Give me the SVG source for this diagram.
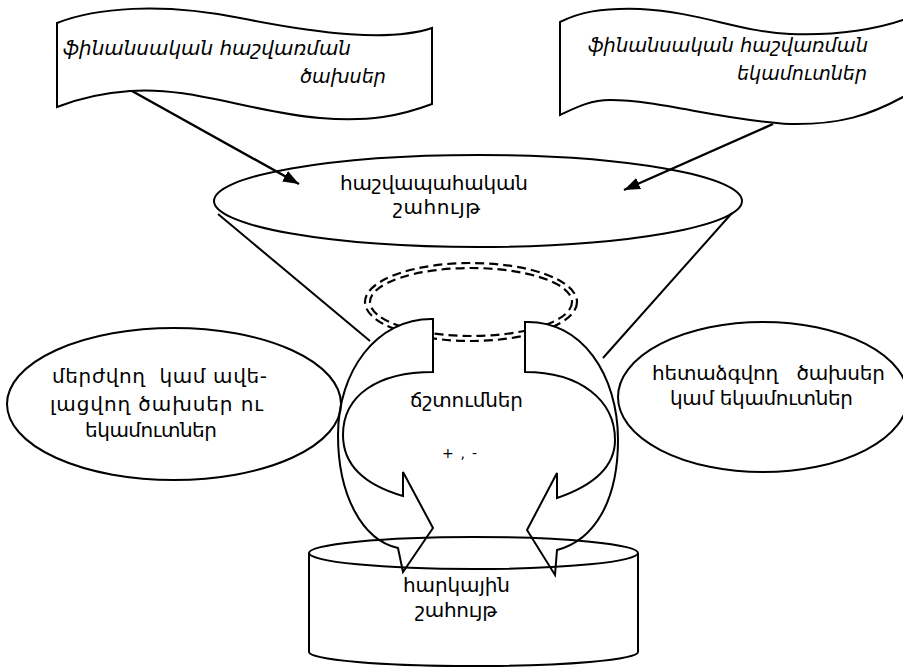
<svg xmlns="http://www.w3.org/2000/svg" width="903" height="667" viewBox="0 0 903 667">
<style>
.s{fill:none;stroke:#000;stroke-width:2}
.w{fill:#fff;stroke:#000;stroke-width:2;stroke-linejoin:miter}
.d{fill:none;stroke:#000;stroke-width:2.2;stroke-dasharray:9 5}
.t{font-family:"DejaVu Sans",sans-serif;font-size:20px;fill:#000;white-space:pre}
.i{font-style:italic}
</style>
<defs>
<marker id="ah" markerUnits="userSpaceOnUse" markerWidth="16" markerHeight="12" viewBox="0 0 16 12" refX="16" refY="6" orient="auto">
<path d="M0,0 L16,6 L0,12 z" fill="#000"/>
</marker>
</defs>
<rect width="903" height="667" fill="#fff"/>

<g id="doc-left">
<path class="s" d="M57,23 C95,8 160,2 240,18 S390,42 432,28 L432,104 C400,116 370,122 320,118 C250,112 190,86 130,91 C100,93 75,100 57,107 Z"/>
<text class="t i" x="63" y="55" textLength="288" lengthAdjust="spacingAndGlyphs">ֆինանսական հաշվառման</text>
<text class="t i" x="300" y="83" textLength="86" lengthAdjust="spacingAndGlyphs">ծախսեր</text>
</g>

<g id="doc-right">
<path class="s" d="M560,22 C580,12 600,8 640,9 C700,12 740,32 790,34 C840,36 880,28 903,20 L910,20 L910,95 L903,97 C870,115 840,125 790,124 C720,120 660,100 610,100 C590,100 575,108 560,115 Z"/>
<text class="t i" x="588" y="52" textLength="280" lengthAdjust="spacingAndGlyphs">ֆինանսական հաշվառման</text>
<text class="t i" x="737" y="80" textLength="130" lengthAdjust="spacingAndGlyphs">եկամուտներ</text>
</g>

<g id="accounting-profit">
<ellipse class="s" cx="478" cy="201" rx="264" ry="46"/>
<text class="t" x="340" y="190" textLength="188">հաշվապահական</text>
<text class="t" x="393" y="214" textLength="87">շահույթ</text>
</g>

<g id="loop">
<ellipse class="d" cx="471" cy="302" rx="106" ry="39"/>
<ellipse class="d" cx="471" cy="302" rx="101" ry="34"/>
</g>

<g id="adjustments">
<path class="w" d="M433,319 C376,318 338,372 338,435 C338,495 362,540 398,548 L403,572 L433,528 L403,472 L403,496 C365,485 343,465 343,435 C343,395 378,372 433,372 Z"/>
<path class="w" d="M525,322 C582,320 618,375 618,440 C618,500 595,540 557,550 L555,575 L527,530 L557,473 L557,498 C595,485 615,465 615,440 C615,400 580,372 525,372 Z"/>
<text class="t" x="410" y="407" textLength="113">ճշտումներ</text>
<text class="t" x="442" y="458" style="font-size:14px" textLength="35">+ , -</text>
</g>

<g id="rejected">
<ellipse class="s" cx="174" cy="404" rx="167" ry="76"/>
<text class="t" x="52" y="383" textLength="215">մերժվող  կամ ավե-</text>
<text class="t" x="50" y="411" textLength="213">լացվող ծախսեր ու</text>
<text class="t" x="85" y="437" textLength="132">եկամուտներ</text>
</g>

<g id="deferred">
<ellipse class="s" cx="763" cy="397" rx="145" ry="75"/>
<text class="t" x="652" y="380" textLength="233">հետաձգվող   ծախսեր</text>
<text class="t" x="670" y="405" textLength="183">կամ եկամուտներ</text>
</g>

<g id="tax-profit">
<path class="s" d="M309,553 L309,652 A164,14 0 0 0 638,652 L638,553"/>
<ellipse class="s" cx="473.5" cy="553" rx="164.5" ry="16"/>
<text class="t" x="403" y="592" textLength="107">հարկային</text>
<text class="t" x="415" y="617" textLength="82">շահույթ</text>
</g>

<g id="connectors">
<line class="s" x1="132" y1="91" x2="299" y2="184" style="stroke-width:2.4" marker-end="url(#ah)"/>
<line class="s" x1="773" y1="124" x2="624" y2="190" style="stroke-width:2.4" marker-end="url(#ah)"/>
<line class="s" x1="218" y1="214" x2="370" y2="341"/>
<line class="s" x1="732" y1="213" x2="603" y2="358"/>
</g>
</svg>
